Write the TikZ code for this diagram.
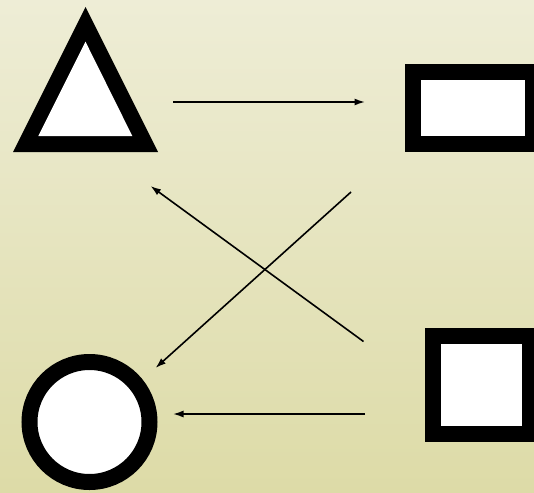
\documentclass[tikz,border=0pt]{standalone}
\usetikzlibrary{arrows.meta}
\definecolor{bgtop}{RGB}{238,237,214}
\definecolor{bgbot}{RGB}{221,219,167}
\begin{document}
\begin{tikzpicture}[x=1pt,y=-1pt,
  conn/.style={line width=1.6pt,-{Latex[length=10.5pt,width=7pt]}},
  thickshape/.style={draw=black,fill=white,line width=16pt,inner sep=0pt}]
\useasboundingbox (0,0) rectangle (534,492);
\shade[top color=bgtop,bottom color=bgbot] (0,0) rectangle (534,492);
\clip (0,0) rectangle (534,492);
% triangle
\fill[black] (13,152) -- (85.5,7) -- (158,152) -- cycle;
\fill[white] (38.3,136) -- (85.5,41.7) -- (132.3,136) -- cycle;
\coordinate (tri) at (85.5,90);
% top right rectangle
\node[thickshape,rectangle,minimum width=120pt,minimum height=72pt] (rect) at (473,108) {};
% bottom right square
\node[thickshape,rectangle,minimum width=97pt,minimum height=98pt] (sq) at (481.5,385) {};
% circle
\node[thickshape,circle,minimum size=120pt] (circ) at (89.5,422) {};
% connector ends
\coordinate (a1) at (173,102);
\coordinate (a2) at (365,102);
\coordinate (b1) at (351,192);
\coordinate (b2) at (155.5,368);
\coordinate (c1) at (363.5,341.5);
\coordinate (c2) at (150.5,186);
\coordinate (d1) at (365,414);
\coordinate (d2) at (173,414);
\draw[conn] (a1) -- (a2);
\draw[conn] (b1) -- (b2);
\draw[conn] (c1) -- (c2);
\draw[conn] (d1) -- (d2);
\end{tikzpicture}
\end{document}
